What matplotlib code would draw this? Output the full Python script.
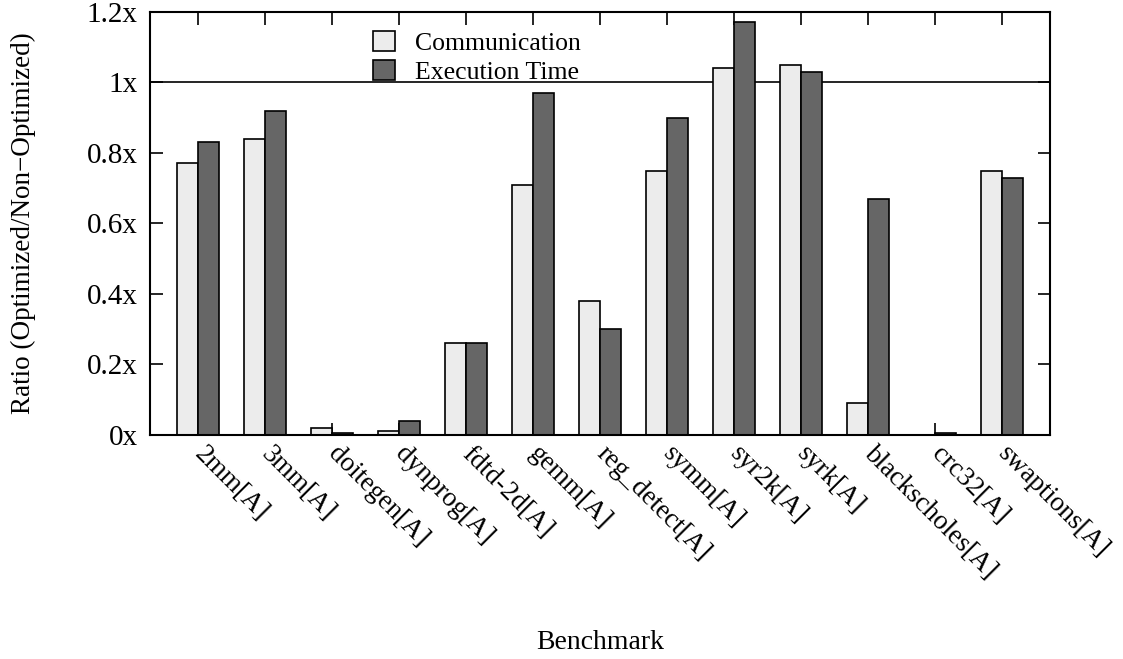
import matplotlib
matplotlib.use("Agg")
import matplotlib.pyplot as plt
import numpy as np
from matplotlib.patches import Patch

benchmarks = ["2mm[A]", "3mm[A]", "doitegen[A]", "dynprog[A]", "fdtd-2d[A]", "gemm[A]",
              "reg_detect[A]", "symm[A]", "syr2k[A]", "syrk[A]", "blackscholes[A]",
              "crc32[A]", "swaptions[A]"]
communication = [0.77, 0.84, 0.02, 0.01, 0.26, 0.71, 0.38, 0.75, 1.04, 1.05, 0.09, 0.0, 0.75]
exec_time = [0.83, 0.92, 0.005, 0.04, 0.26, 0.97, 0.30, 0.90, 1.17, 1.03, 0.67, 0.005, 0.73]
yticks = [0, 0.2, 0.4, 0.6, 0.8, 1.0, 1.2]
ytick_labels = ["0x", "0.2x", "0.4x", "0.6x", "0.8x", "1x", "1.2x"]

plt.rcParams['font.family'] = ['Liberation Serif', 'DejaVu Serif']
plt.rcParams['font.size'] = 19

fig = plt.figure(figsize=(11.23, 6.59), dpi=100)
ax = fig.add_axes([0.1336, 0.340, 0.8014, 0.642])

x = np.arange(len(benchmarks))
w = 0.32
light = "#ececec"
dark = "#666666"
ax.bar(x - w / 2, communication, w, color=light, edgecolor="black", linewidth=1.2, zorder=2)
ax.bar(x + w / 2, exec_time, w, color=dark, edgecolor="black", linewidth=1.2, zorder=2)
ax.axhline(1.0, color="black", linewidth=1.2, zorder=1)

ax.set_xlim(-0.716, 12.716)
ax.set_ylim(0, 1.2)
ax.set_yticks(yticks)
ax.set_yticklabels(ytick_labels, fontsize=21)
ax.set_xticks(x)
ax.set_xticklabels(benchmarks, rotation=-45, ha="left", va="center", rotation_mode="anchor",
                   fontsize=19.5)
ax.tick_params(axis="both", direction="in", length=9, width=1.2, top=True, right=True)
ax.tick_params(axis="x", pad=11)
ax.tick_params(axis="y", pad=9)
for sp in ax.spines.values():
    sp.set_linewidth(1.5)

ax.set_ylabel("Ratio (Optimized/Non\u2212Optimized)", fontsize=19.5)
ax.yaxis.set_label_coords(-0.127, 0.5)
ax.set_xlabel("Benchmark", fontsize=20)
ax.xaxis.set_label_coords(0.5, -0.462)

handles = [Patch(facecolor=light, edgecolor="black", linewidth=1.2, label="Communication"),
           Patch(facecolor=dark, edgecolor="black", linewidth=1.2, label="Execution Time")]
ax.legend(handles=handles, loc="upper left", bbox_to_anchor=(0.2334, 0.986), frameon=False,
          borderpad=0, handlelength=0.85, handleheight=0.85, handletextpad=0.8,
          labelspacing=0.2, fontsize=18.5)

fig.savefig("out.png", dpi=100)
